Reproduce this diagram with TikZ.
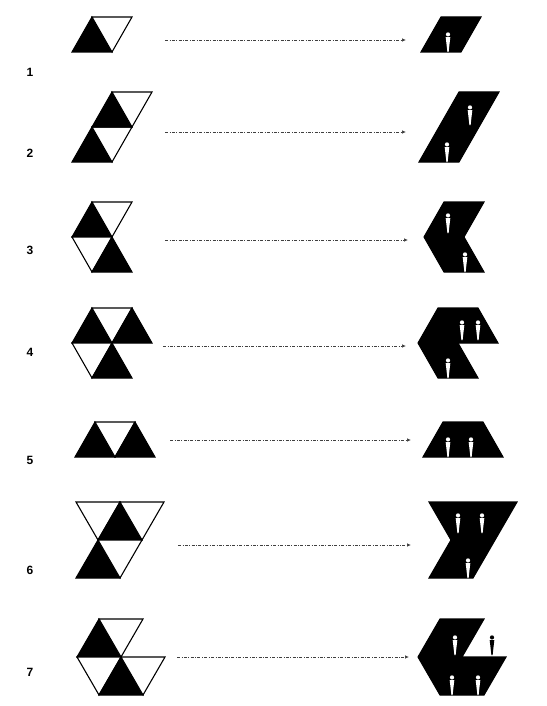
\documentclass[tikz,border=0pt]{standalone}
\usepackage{fontspec}
\setmainfont{Liberation Sans}
\usetikzlibrary{arrows.meta}

% small person marker, feet at (#1,#2)
\newcommand{\pin}[3]{%
  \fill[#3] (#1,#2) ++(0,-17.6) circle (2.1);
  \fill[#3] (#1,#2) ++(-2.3,-14.8) -- ++(4.6,0) -- ++(-1.7,14.8) -- ++(-1.2,0) -- cycle;
}

\begin{document}
\begin{tikzpicture}[x=1pt, y=-1pt]

    \tikzstyle{blk}=[fill=black, draw=black, line width=1.1pt, line join=miter];
    \tikzstyle{wht}=[fill=white, draw=black, line width=1.1pt, line join=miter];
    \tikzstyle{num}=[font=\fontsize{12}{14}\selectfont\bfseries];
    \tikzstyle{link}=[draw=black!75, line width=0.7pt, dash pattern=on 3pt off 1.5pt on 0.8pt off 1.5pt, -{Latex[length=4pt, width=3.5pt]}];

    \useasboundingbox (0,0) rectangle (546,706);

    % row labels
    \node[num] (n1) at (30,72) {1};
    \node[num] (n2) at (30,153) {2};
    \node[num] (n3) at (30,250) {3};
    \node[num] (n4) at (30,352) {4};
    \node[num] (n5) at (30,460) {5};
    \node[num] (n6) at (30,570) {6};
    \node[num] (n7) at (30,672) {7};

    % 1
    \path[blk] (72,52) -- (112,52) -- (92,17) -- cycle;
    \path[wht] (92,17) -- (132,17) -- (112,52) -- cycle;
    \path[blk] (421,52) -- (461,52) -- (481,17) -- (441,17) -- cycle;
    \pin{448}{52}{white}

    % 2
    \path[blk] (72,162) -- (112,162) -- (92,127) -- cycle;
    \path[wht] (92,127) -- (132,127) -- (112,162) -- cycle;
    \path[blk] (92,127) -- (132,127) -- (112,92) -- cycle;
    \path[wht] (112,92) -- (152,92) -- (132,127) -- cycle;
    \path[blk] (419,162) -- (459,162) -- (499,92) -- (459,92) -- cycle;
    \pin{447}{162}{white}
    \pin{470}{125}{white}

    % 3
    \path[blk] (72,237) -- (112,237) -- (92,202) -- cycle;
    \path[wht] (92,202) -- (132,202) -- (112,237) -- cycle;
    \path[wht] (72,237) -- (112,237) -- (92,272) -- cycle;
    \path[blk] (92,272) -- (132,272) -- (112,237) -- cycle;
    \path[blk] (424,237) -- (444,202) -- (484,202) -- (464,237) -- (484,272) -- (444,272) -- cycle;
    \pin{448}{233}{white}
    \pin{465}{272}{white}

    % 4
    \path[blk] (72,343) -- (112,343) -- (92,308) -- cycle;
    \path[wht] (92,308) -- (132,308) -- (112,343) -- cycle;
    \path[blk] (112,343) -- (152,343) -- (132,308) -- cycle;
    \path[wht] (72,343) -- (112,343) -- (92,378) -- cycle;
    \path[blk] (92,378) -- (132,378) -- (112,343) -- cycle;
    \path[blk] (418,343) -- (438,308) -- (478,308) -- (498,343) -- (458,343) -- (478,378) -- (438,378) -- cycle;
    \pin{462}{340}{white}
    \pin{478}{340}{white}
    \pin{448}{378}{white}

    % 5
    \path[blk] (75,457) -- (115,457) -- (95,422) -- cycle;
    \path[wht] (95,422) -- (135,422) -- (115,457) -- cycle;
    \path[blk] (115,457) -- (155,457) -- (135,422) -- cycle;
    \path[blk] (423,457) -- (503,457) -- (483,422) -- (443,422) -- cycle;
    \pin{448}{457}{white}
    \pin{471}{457}{white}

    % 6
    \path[wht] (76,502) -- (120,502) -- (98,540) -- cycle;
    \path[blk] (98,540) -- (142,540) -- (120,502) -- cycle;
    \path[wht] (120,502) -- (164,502) -- (142,540) -- cycle;
    \path[blk] (76,578) -- (120,578) -- (98,540) -- cycle;
    \path[wht] (98,540) -- (142,540) -- (120,578) -- cycle;
    \path[blk] (429,502) -- (517,502) -- (473,578) -- (429,578) -- (451,540) -- cycle;
    \pin{458}{533}{white}
    \pin{482}{533}{white}
    \pin{468}{578}{white}

    % 7
    \path[blk] (77,657) -- (121,657) -- (99,619) -- cycle;
    \path[wht] (99,619) -- (143,619) -- (121,657) -- cycle;
    \path[wht] (77,657) -- (121,657) -- (99,695) -- cycle;
    \path[blk] (99,695) -- (143,695) -- (121,657) -- cycle;
    \path[wht] (121,657) -- (165,657) -- (143,695) -- cycle;
    \path[blk] (418,657) -- (440,619) -- (484,619) -- (462,657) -- (506,657) -- (484,695) -- (440,695) -- cycle;
    \pin{455}{655}{white}
    \pin{492}{655}{black}
    \pin{452}{695}{white}
    \pin{478}{695}{white}

    % arrows
    \coordinate (s1) at (165,40);  \coordinate (t1) at (406,40);
    \coordinate (s2) at (165,132); \coordinate (t2) at (406,132);
    \coordinate (s3) at (165,240); \coordinate (t3) at (408,240);
    \coordinate (s4) at (163,346); \coordinate (t4) at (406,346);
    \coordinate (s5) at (170,440); \coordinate (t5) at (411,440);
    \coordinate (s6) at (178,545); \coordinate (t6) at (411,545);
    \coordinate (s7) at (177,657); \coordinate (t7) at (409,657);

    \draw[link] (s1) -- (t1);
    \draw[link] (s2) -- (t2);
    \draw[link] (s3) -- (t3);
    \draw[link] (s4) -- (t4);
    \draw[link] (s5) -- (t5);
    \draw[link] (s6) -- (t6);
    \draw[link] (s7) -- (t7);

\end{tikzpicture}
\end{document}
